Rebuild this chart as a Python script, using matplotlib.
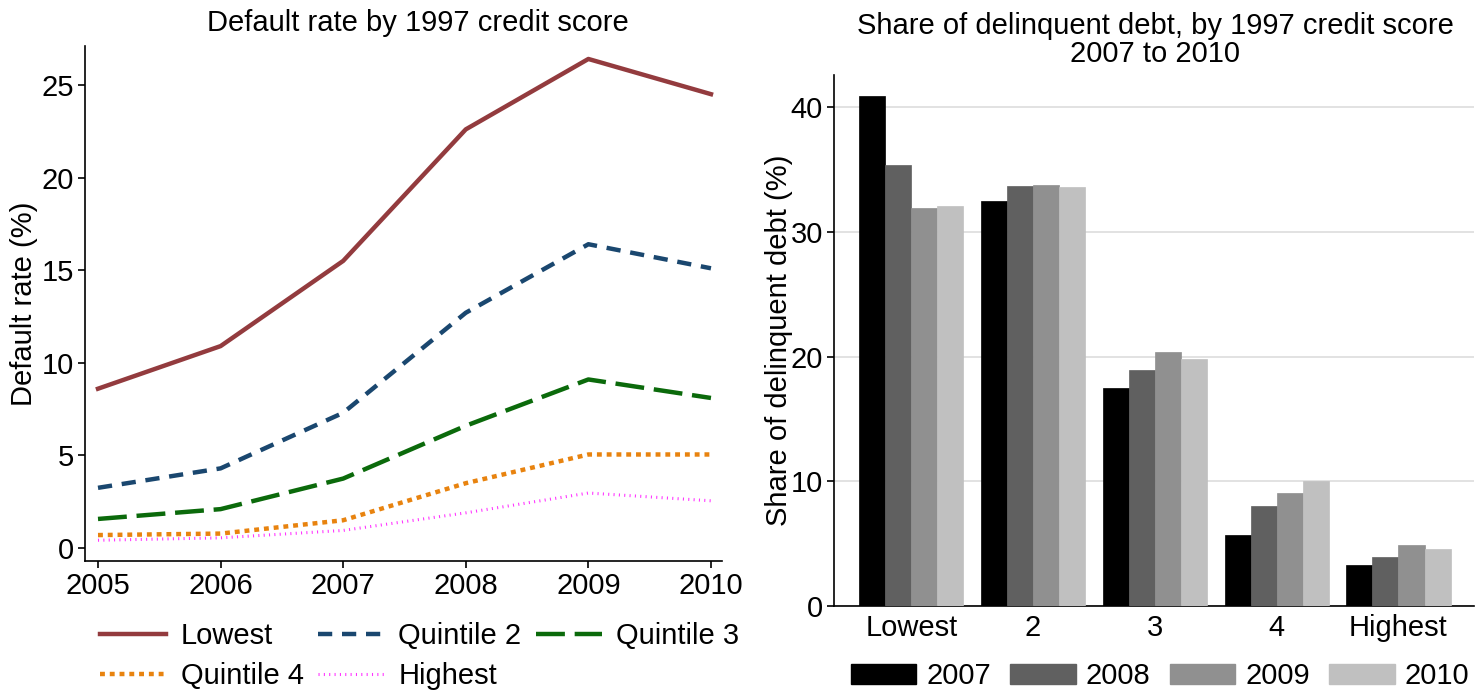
import numpy as np
import matplotlib
matplotlib.use('Agg')
import matplotlib.pyplot as plt
from matplotlib.patches import Patch

plt.rcParams['font.family'] = ['Liberation Sans', 'DejaVu Sans']

# Left panel: default rate by 1997 credit score quintile
years = [2005, 2006, 2007, 2008, 2009, 2010]
lowest = [8.6, 10.9, 15.5, 22.6, 26.4, 24.5]
quint2 = [3.25, 4.3, 7.3, 12.7, 16.4, 15.1]
quint3 = [1.57, 2.1, 3.75, 6.6, 9.1, 8.1]
quint4 = [0.7, 0.78, 1.5, 3.5, 5.05, 5.05]
highest = [0.42, 0.55, 0.95, 1.9, 2.97, 2.55]

# Right panel: share of delinquent debt
groups = ['Lowest', '2', '3', '4', 'Highest']
bar_years = ['2007', '2008', '2009', '2010']
share_2007 = [40.9, 32.5, 17.5, 5.7, 3.3]
share_2008 = [35.4, 33.7, 18.9, 8.0, 3.9]
share_2009 = [31.9, 33.8, 20.4, 9.1, 4.9]
share_2010 = [32.1, 33.6, 19.8, 10.0, 4.6]

W, H = 1476, 692
fig = plt.figure(figsize=(W/100, H/100), dpi=100)
ax1 = fig.add_axes([85/W, 1-561/H, (722-85)/W, (561-46)/H])
ax2 = fig.add_axes([834/W, 1-606/H, (1474-834)/W, (606-75)/H])

fs = 21
tfs = 21

# ---- left
ax1.plot(years, lowest, color='#933b3e', lw=3.2, ls='-', label='Lowest')
ax1.plot(years, quint2, color='#1a476f', lw=3.2, ls=(0, (3.2, 2.2)), label='Quintile 2')
ax1.plot(years, quint3, color='#0b6a0b', lw=3.2, ls=(0, (6.5, 2.2)), label='Quintile 3')
ax1.plot(years, quint4, color='#e8830f', lw=3.2, ls=(0, (1.1, 1.1)), label='Quintile 4')
ax1.plot(years, highest, color='#ff33ff', lw=2.2, ls=(0, (0.35, 1.4)), label='Highest')
ax1.set_xlim(2004.894, 2010.09)
ax1.set_ylim(-0.7, 27.1)
ax1.set_xticks(years)
ax1.set_yticks([0, 5, 10, 15, 20, 25])
ax1.tick_params(labelsize=fs, length=5, width=1.2, pad=3)
ax1.set_ylabel('Default rate (%)', fontsize=fs)
ax1.yaxis.set_label_coords(-0.074, 0.5)
ax1.spines['top'].set_visible(False)
ax1.spines['right'].set_visible(False)
ax1.spines['left'].set_linewidth(1.2)
ax1.spines['bottom'].set_linewidth(1.2)
fig.text(418/W, 1-23/H, 'Default rate by 1997 credit score', ha='center', va='center', fontsize=tfs)
h, l = ax1.get_legend_handles_labels()
order = [0, 3, 1, 4, 2]
fig.legend([h[i] for i in order], [l[i] for i in order], loc='center', bbox_to_anchor=(420/W, 1-656/H),
           ncol=3, frameon=False, fontsize=fs, handlelength=2.25, handletextpad=0.5,
           columnspacing=0.5, labelspacing=0.42)

# ---- right
x = np.arange(len(groups))
w = 0.214
cols = ['#000000', '#606060', '#909090', '#c0c0c0']
series = [share_2007, share_2008, share_2009, share_2010]
for i, (vals, c) in enumerate(zip(series, cols)):
    ax2.bar(x + (i - 1.5) * w, vals, width=w, color=c, edgecolor=c, linewidth=0.5, zorder=3)
ax2.set_xlim(-0.635, 4.62)
ax2.set_ylim(0, 42.6)
ax2.set_xticks(x)
ax2.set_xticklabels(groups)
ax2.set_yticks([0, 10, 20, 30, 40])
ax2.tick_params(axis='x', length=0, labelsize=fs, pad=6)
ax2.tick_params(axis='y', length=5, width=1.2, labelsize=fs, pad=3)
ax2.grid(axis='y', color='#dddddd', lw=1.2, zorder=0)
ax2.set_ylabel('Share of delinquent debt (%)', fontsize=fs)
ax2.yaxis.set_label_coords(-0.064, 0.5)
ax2.spines['top'].set_visible(False)
ax2.spines['right'].set_visible(False)
ax2.spines['left'].set_linewidth(1.2)
ax2.spines['bottom'].set_linewidth(1.2)
fig.text(1155/W, 1-40/H, 'Share of delinquent debt, by 1997 credit score\n2007 to 2010',
         ha='center', va='center', fontsize=tfs, linespacing=1.0)
handles = [Patch(facecolor=c, edgecolor=c) for c in cols]
fig.legend(handles, bar_years, loc='center', bbox_to_anchor=(1160/W, 1-676/H), ncol=4, frameon=False,
           fontsize=fs, handlelength=2.25, handleheight=0.7, handletextpad=0.35, columnspacing=0.65)

fig.savefig('out.png', dpi=100)
